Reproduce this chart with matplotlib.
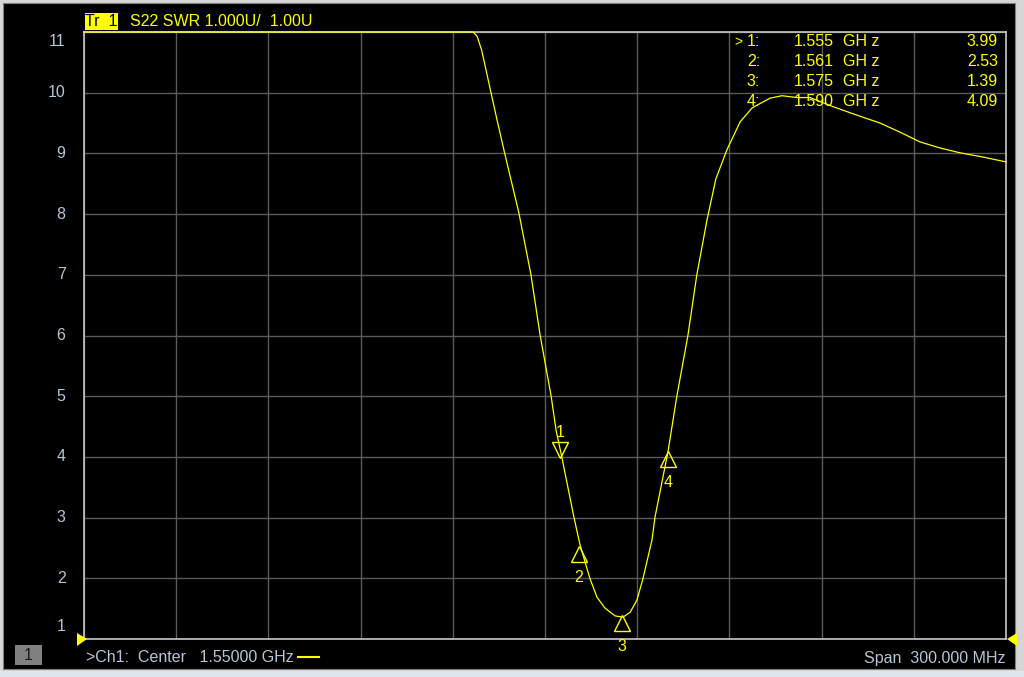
import numpy as np
import matplotlib.pyplot as plt
from matplotlib.patches import Rectangle, Polygon
from matplotlib.transforms import offset_copy

# trace (GHz, SWR), instrument clamps display at 11
freq = [1.4000, 1.4500, 1.5000, 1.5266, 1.5279, 1.5294, 1.5323, 1.5344, 1.5368,
        1.5415, 1.5454, 1.5484, 1.5520, 1.5536, 1.5555, 1.5594, 1.5614, 1.5646,
        1.5669, 1.5695, 1.5728, 1.5754, 1.5777, 1.5799, 1.5819, 1.5848, 1.5858,
        1.5900, 1.5929, 1.5965, 1.5994, 1.6027, 1.6056, 1.6092, 1.6135, 1.6174,
        1.6232, 1.6271, 1.6320, 1.6362, 1.6437, 1.6515, 1.6590, 1.6655, 1.6720,
        1.6785, 1.6850, 1.6925, 1.7000]
swr = [11.0, 11.0, 11.0, 11.0, 10.93, 10.70, 10.03, 9.55, 9.02,
       8.02, 7.01, 6.01, 5.00, 4.44, 3.99, 3.01, 2.55, 2.00,
       1.69, 1.51, 1.38, 1.36, 1.44, 1.64, 2.00, 2.63, 3.01,
       4.08, 5.00, 6.00, 7.00, 7.90, 8.58, 9.06, 9.52, 9.75,
       9.91, 9.95, 9.92, 9.92, 9.77, 9.63, 9.50, 9.35, 9.19,
       9.09, 9.01, 8.94, 8.86]

mk_id = ["1", "2", "3", "4"]
mk_freq = [1.555, 1.561, 1.575, 1.590]
mk_val = [3.99, 2.53, 1.39, 4.09]

yticks = list(range(1, 12))
f_start, f_stop = 1.40, 1.70

YEL = "#ffff00"
LBL = "#b4c6d8"
GRID = "#5a5a5a"
FRAME = "#c8c8c8"
FS = 11.5
W, H = 1024, 677


def fx(px):
    return px / W


def fy(py):
    return 1 - py / H


fig = plt.figure(figsize=(10.24, 6.77), dpi=100, facecolor="#d6d6d6")

# background panel (screen) behind everything
bg = fig.add_axes([0, 0, 1, 1], zorder=-5)
bg.set_axis_off()
bg.set_xlim(0, 1)
bg.set_ylim(0, 1)
bg.add_patch(Rectangle((fx(3), fy(669)), fx(1012), 666 / H, facecolor="black",
                       edgecolor="#808080", lw=0.8))
bg.add_patch(Rectangle((0, 0), 1, 6 / H, facecolor="#dfe6ee", edgecolor="none"))

ax = fig.add_axes([fx(84), 38 / H, fx(922), 607 / H])
ax.set_facecolor("black")
ax.set_xlim(f_start, f_stop)
ax.set_ylim(1, 11)
ax.set_xticks(np.linspace(f_start, f_stop, 11))
ax.set_yticks(yticks)
ax.grid(True, color=GRID, lw=1)
ax.tick_params(length=0, labelleft=False, labelbottom=False)
for s in ax.spines.values():
    s.set_color(FRAME)
    s.set_linewidth(1.2)

ax.plot(freq, np.clip(swr, 1, 11), color=YEL, lw=0.9, clip_on=False, zorder=5)

# y labels, pulled inward at both ends like the analyser does
for v in yticks:
    yy = min(max(v, 1.2), 10.85)
    ax.text(-0.02, (yy - 1) / 10, str(v), transform=ax.transAxes, ha="right",
            va="center", color=LBL, fontsize=FS, family="Liberation Sans")

# markers
for i, (m, f, v) in enumerate(zip(mk_id, mk_freq, mk_val)):
    if i == 0:
        tr = offset_copy(ax.transData, fig=fig, x=0, y=8, units="dots")
        ax.plot([f], [v], marker="v", ms=12, mfc="none", mec=YEL, mew=1,
                transform=tr, zorder=6)
        tl = offset_copy(ax.transData, fig=fig, x=0, y=25, units="dots")
        ax.text(f, v, m, transform=tl, ha="center", va="center", color=YEL,
                fontsize=FS, family="Liberation Sans")
    else:
        tr = offset_copy(ax.transData, fig=fig, x=0, y=-8, units="dots")
        ax.plot([f], [v], marker="^", ms=12, mfc="none", mec=YEL, mew=1,
                transform=tr, zorder=6, clip_on=False)
        tl = offset_copy(ax.transData, fig=fig, x=0, y=-31, units="dots")
        ax.text(f, v, m, transform=tl, ha="center", va="center", color=YEL,
                fontsize=FS, family="Liberation Sans", clip_on=False)

# overlay for header, footer and marker table
ov = fig.add_axes([0, 0, 1, 1], zorder=10)
ov.set_axis_off()
ov.set_xlim(0, 1)
ov.set_ylim(0, 1)
ov.patch.set_alpha(0)

for i, (m, f, v) in enumerate(zip(mk_id, mk_freq, mk_val)):
    y = fy(42 + 20 * i)
    if i == 0:
        ov.text(fx(734), y, ">", color=YEL, fontsize=10, va="center",
                family="Liberation Sans")
    ov.text(fx(760), y, m + ":", color=YEL, fontsize=FS, va="center",
            ha="right", family="Liberation Sans")
    ov.text(fx(834), y, f"{f:.3f}", color=YEL, fontsize=FS, va="center",
            ha="right", family="Liberation Sans")
    ov.text(fx(843), y, "GH z", color=YEL, fontsize=FS, va="center",
            family="Liberation Sans")
    ov.text(fx(998), y, f"{v:.2f}", color=YEL, fontsize=FS, va="center",
            ha="right", family="Liberation Sans")

# header
ov.add_patch(Rectangle((fx(85), fy(30)), fx(33), 17 / H, fc=YEL, ec="none",
                       zorder=1))
ov.text(fx(101.5), fy(21), "Tr  1", color="black", fontsize=FS,
        ha="center", va="center", family="Liberation Sans", zorder=3)
ov.text(fx(130), fy(21), "S22 SWR 1.000U/  1.00U", color=YEL,
        fontsize=FS, va="center", family="Liberation Sans")

# footer
ov.add_patch(Rectangle((fx(15), fy(665)), fx(27), 20 / H, fc="#808080",
                       ec="none", zorder=1))
ov.text(fx(28.5), fy(655), "1", color="#1a1a1a", fontsize=FS,
        ha="center", va="center", family="Liberation Sans", zorder=3)
ov.text(fx(86), fy(658), ">Ch1:  Center   1.55000 GHz", color=LBL,
        fontsize=FS, va="center", family="Liberation Sans")
ov.plot([fx(298), fx(319)], [fy(657)] * 2, color=YEL, lw=1.5)
ov.text(fx(1005), fy(658), "Span  300.000 MHz", color=LBL,
        fontsize=FS, ha="right", va="center", family="Liberation Sans")

# start / stop arrows on the frequency axis
ov.add_patch(Polygon([(fx(77), fy(633)), (fx(77), fy(646)), (fx(87), fy(639))],
                     closed=True, fc=YEL, ec="none"))
ov.add_patch(Polygon([(fx(1017), fy(633)), (fx(1017), fy(646)), (fx(1007), fy(639))],
                     closed=True, fc=YEL, ec="none"))

fig.savefig("out.png", dpi=100, facecolor=fig.get_facecolor())
